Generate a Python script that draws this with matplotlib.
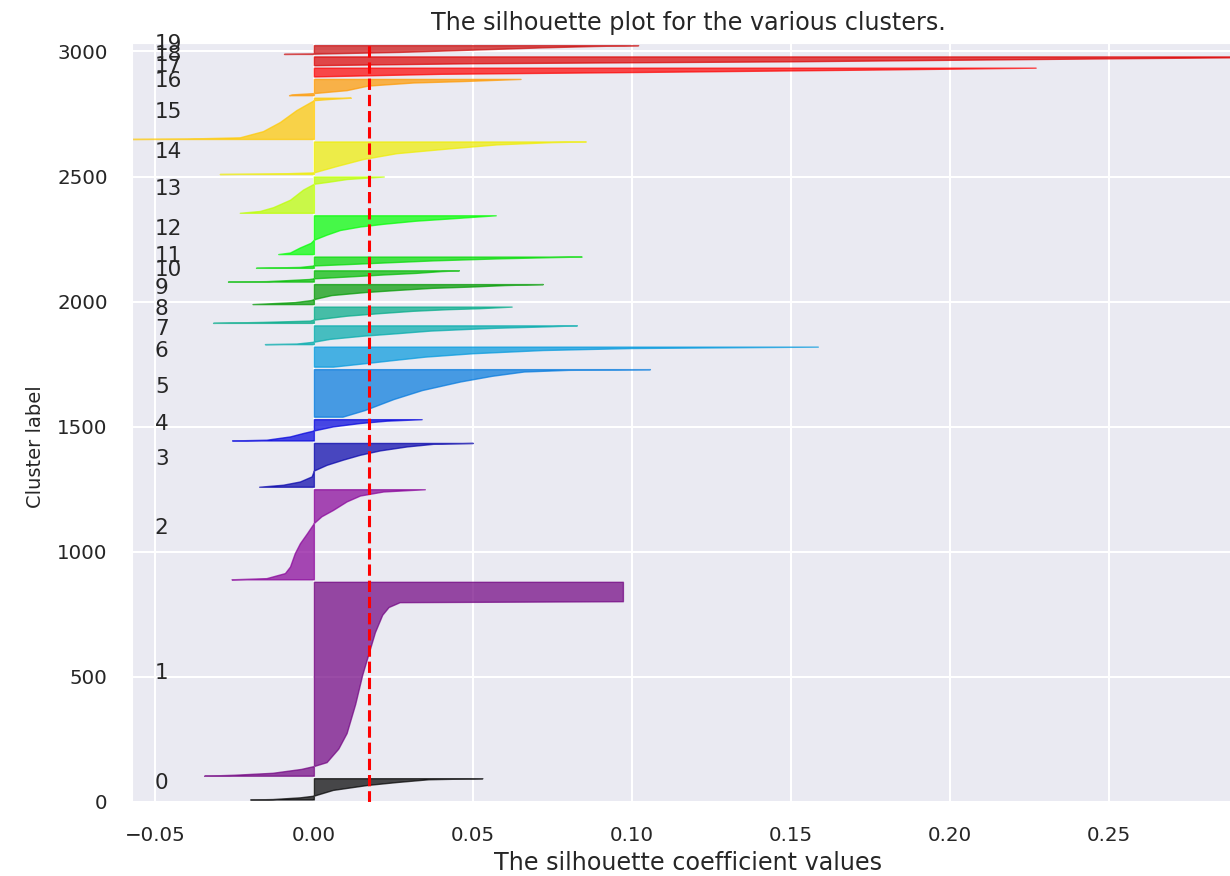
import numpy as np
import matplotlib
matplotlib.use("Agg")
import matplotlib.pyplot as plt
import matplotlib.cm as cm
import seaborn as sns

sns.set_style("darkgrid")
plt.rcParams['font.family'] = ['DejaVu Sans']

n_clusters = 20
cluster_sizes = [85, 775, 360, 175, 85, 190, 80, 75, 65, 80,
                 45, 45, 155, 145, 130, 165, 65, 35, 35, 35]
silhouette_avg = 0.0173

# sorted silhouette values of each cluster:
# (position inside the cluster from 0 = bottom to 1 = top, value)
sil_0 = [(0, -0.020), (0.02, -0.013), (0.1, -0.0044), (0.18, 0.0), (0.45, 0.006),
         (0.68, 0.0167), (0.82, 0.026), (0.95, 0.036), (1.0, 0.053)]
sil_1 = [(0, -0.0345), (0.005, -0.025), (0.015, -0.013), (0.035, -0.004), (0.05, 0.0),
         (0.07, 0.004), (0.14, 0.0077), (0.22, 0.0103), (0.37, 0.0130), (0.52, 0.0152),
         (0.63, 0.0172), (0.74, 0.0192), (0.83, 0.0215), (0.87, 0.0235), (0.895, 0.027),
         (0.9, 0.0972), (1.0, 0.0972)]
sil_2 = [(0, -0.0259), (0.013, -0.0149), (0.069, -0.0091), (0.142, -0.0075), (0.29, -0.006),
         (0.40, -0.0044), (0.51, -0.0022), (0.625, 0.0), (0.70, 0.0024), (0.77, 0.006),
         (0.865, 0.0103), (0.93, 0.0145), (0.975, 0.0218), (1.0, 0.0349)]
sil_3 = [(0, -0.0172), (0.046, -0.0097), (0.12, -0.0044), (0.236, -0.0007), (0.37, 0.0),
         (0.50, 0.004), (0.62, 0.0092), (0.73, 0.0145), (0.83, 0.0208), (0.92, 0.0292),
         (0.98, 0.0375), (1.0, 0.050)]
sil_4 = [(0, -0.0257), (0.035, -0.0149), (0.19, -0.0075), (0.35, -0.0034), (0.47, 0.0),
         (0.66, 0.006), (0.82, 0.0145), (0.93, 0.0229), (1.0, 0.0339)]
sil_5 = [(0, 0.009), (0.14, 0.016), (0.37, 0.025), (0.56, 0.034), (0.74, 0.046),
         (0.86, 0.056), (0.95, 0.066), (0.985, 0.08), (1.0, 0.1057)]
sil_6 = [(0, 0.006), (0.17, 0.016), (0.33, 0.025), (0.5, 0.035), (0.67, 0.05),
         (0.83, 0.072), (0.93, 0.10), (1.0, 0.1585)]
sil_7 = [(0, -0.0154), (0.03, -0.0055), (0.13, 0.0), (0.28, 0.005), (0.45, 0.0155),
         (0.58, 0.026), (0.72, 0.0365), (0.8, 0.047), (0.87, 0.057), (0.95, 0.074),
         (1.0, 0.0827)]
sil_8 = [(0, -0.0317), (0.06, -0.016), (0.14, -0.0013), (0.2, 0.0), (0.44, 0.0103),
         (0.6, 0.0208), (0.74, 0.031), (0.84, 0.042), (0.9, 0.052), (1.0, 0.0622)]
sil_9 = [(0, -0.0193), (0.1, -0.006), (0.2, -0.001), (0.25, 0.0), (0.45, 0.0055),
         (0.6, 0.016), (0.71, 0.0265), (0.81, 0.037), (0.88, 0.05), (0.95, 0.06),
         (1.0, 0.072)]
sil_10 = [(0, -0.027), (0.04, -0.015), (0.11, -0.0097), (0.23, -0.0015), (0.29, 0.0),
          (0.46, 0.0113), (0.63, 0.0218), (0.77, 0.032), (0.93, 0.04), (1.0, 0.0456)]
sil_11 = [(0, -0.0182), (0.08, -0.0044), (0.21, 0.0), (0.34, 0.0113), (0.47, 0.0218),
          (0.66, 0.0375), (0.84, 0.058), (0.95, 0.075), (1.0, 0.0842)]
sil_12 = [(0, -0.0112), (0.04, -0.0075), (0.17, -0.0044), (0.29, -0.001), (0.37, 0.0),
          (0.5, 0.004), (0.62, 0.0082), (0.71, 0.0145), (0.78, 0.0218), (0.86, 0.032),
          (0.92, 0.043), (1.0, 0.0572)]
sil_13 = [(0, -0.0233), (0.05, -0.017), (0.155, -0.0128), (0.36, -0.0075), (0.64, -0.0034),
          (0.8, 0.0), (0.86, 0.005), (0.93, 0.0103), (1.0, 0.022)]
sil_14 = [(0, -0.0296), (0.02, -0.01), (0.05, 0.0), (0.245, 0.0071), (0.46, 0.0155),
          (0.64, 0.026), (0.78, 0.0417), (0.91, 0.0575), (0.98, 0.075), (1.0, 0.0855)]
sil_15 = [(0, -0.058), (0.01, -0.04), (0.04, -0.0233), (0.19, -0.016), (0.41, -0.0107),
          (0.70, -0.0055), (0.94, 0.0), (0.97, 0.005), (1.0, 0.0116)]
sil_16 = [(0, -0.0078), (0.05, -0.007), (0.13, 0.0), (0.31, 0.0103), (0.59, 0.017),
          (0.78, 0.0312), (0.87, 0.047), (1.0, 0.065)]
sil_17 = [(0, 0.0), (0.3, 0.04), (0.5, 0.1), (0.8, 0.18), (1.0, 0.227)]
sil_18 = [(0, 0.0), (0.22, 0.05), (0.44, 0.15), (0.78, 0.25), (0.9, 0.29), (1.0, 0.32)]
sil_19 = [(0, -0.0094), (0.03, 0.0), (0.23, 0.027), (0.49, 0.05), (0.75, 0.072),
          (0.9, 0.088), (1.0, 0.102)]

profiles = [sil_0, sil_1, sil_2, sil_3, sil_4, sil_5, sil_6, sil_7, sil_8, sil_9,
            sil_10, sil_11, sil_12, sil_13, sil_14, sil_15, sil_16, sil_17, sil_18, sil_19]

fig = plt.figure(figsize=(12.3, 8.76), dpi=100)
ax = fig.add_axes([0.1073, 0.0845, 0.904, 0.8668])

y_lower = 10
for i, prof in enumerate(profiles):
    size = cluster_sizes[i]
    fr = np.array([p[0] for p in prof])
    vals = np.array([p[1] for p in prof])
    color = cm.nipy_spectral(float(i) / n_clusters)
    ax.fill_betweenx(y_lower + fr * size, 0, vals, facecolor=color,
                     edgecolor=color, alpha=0.7, linewidth=1.0)
    ax.text(-0.05, y_lower + 0.5 * size, str(i), fontsize=15.5, color='.15')
    y_lower = y_lower + size + 10

ax.axvline(x=silhouette_avg, color="red", linestyle="--", linewidth=2.2)

ax.set_title("The silhouette plot for the various clusters.", fontsize=17.2,
             color='.15', pad=9)
ax.set_xlabel("The silhouette coefficient values", fontsize=17.2, color='.15')
ax.set_ylabel("Cluster label", fontsize=14, color='.15')
ax.yaxis.set_label_coords(-0.078, 0.4675)

ax.set_xlim(-0.0572, 0.2925)
ax.set_ylim(0, sum(cluster_sizes) + (n_clusters + 1) * 10)
ax.set_xticks([-0.05, 0.0, 0.05, 0.10, 0.15, 0.20, 0.25])
ax.set_yticks([0, 500, 1000, 1500, 2000, 2500, 3000])
ax.tick_params(labelsize=14.3, pad=14, colors='.15')
ax.grid(True, color='white', linewidth=1.5)

fig.savefig("out.png", dpi=100)
